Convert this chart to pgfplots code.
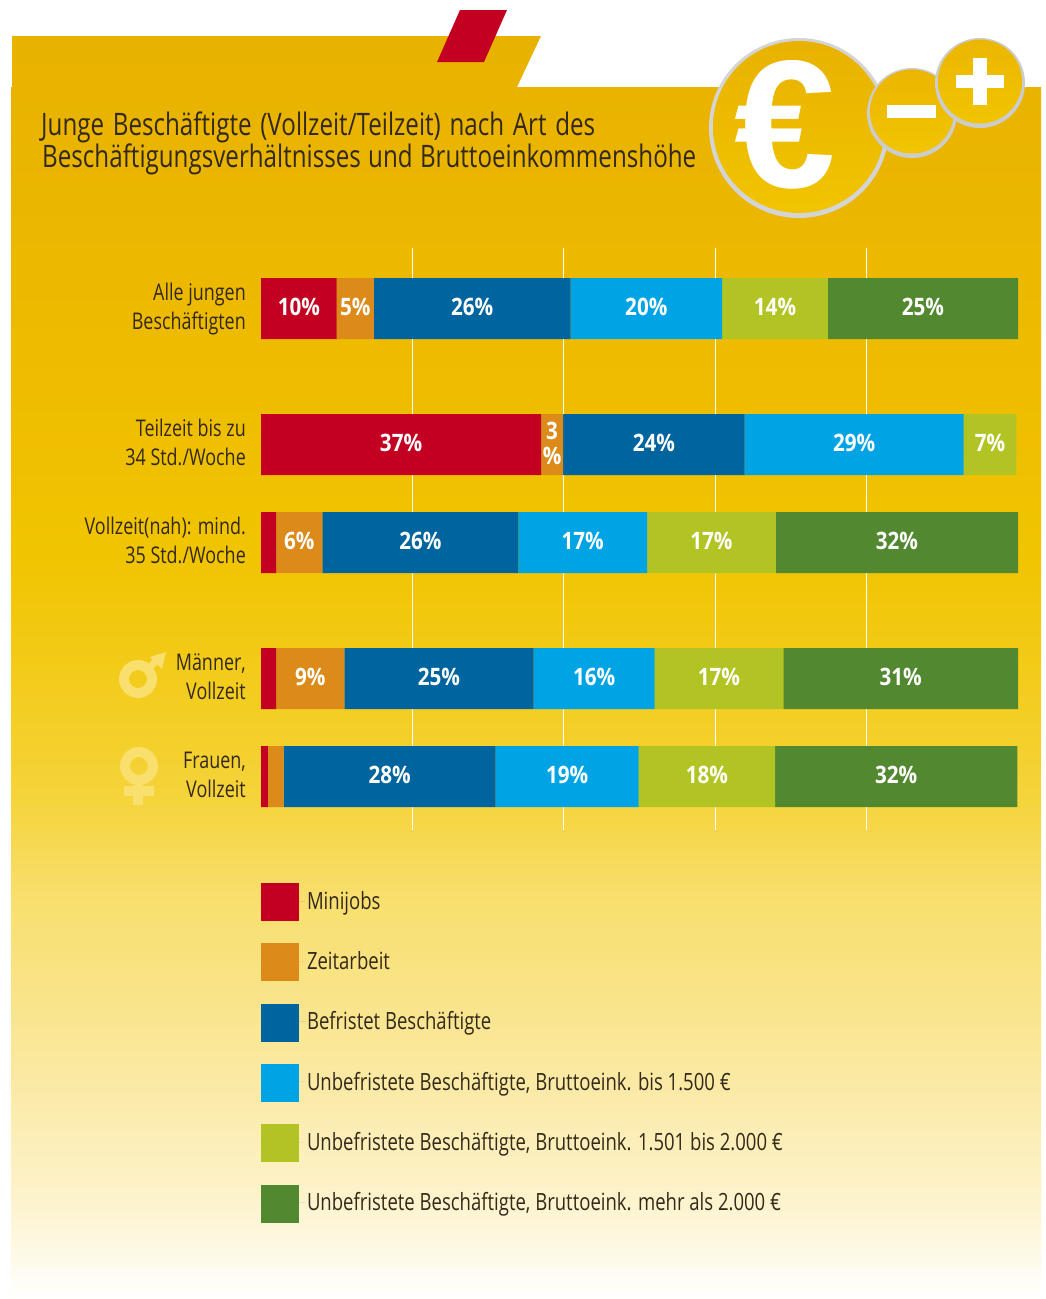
\documentclass[border=0pt]{standalone}
\usepackage{fontspec}
\usepackage{pgfplots}
\usepackage{pgfplotstable}
\pgfplotsset{compat=1.18}
\setmainfont[FakeStretch=0.78]{Open Sans}
\newfontfamily\labfont[FakeStretch=0.86]{Open Sans}
\newfontfamily\eurofont{Liberation Sans}
\definecolor{cRed}{HTML}{C30022}
\definecolor{cOra}{HTML}{DC8A1A}
\definecolor{cDBl}{HTML}{00659F}
\definecolor{cLBl}{HTML}{00A4E4}
\definecolor{cLim}{HTML}{B2C424}
\definecolor{cGrn}{HTML}{52882F}
\definecolor{cTxt}{HTML}{33291A}
\definecolor{g0}{HTML}{E8B200}
\definecolor{g1}{HTML}{EBB600}
\definecolor{g2}{HTML}{EEBD00}
\definecolor{g3}{HTML}{F1C400}
\definecolor{g4}{HTML}{F3CD20}
\definecolor{g5}{HTML}{F5D43C}
\definecolor{g6}{HTML}{F8DF6E}
\definecolor{g7}{HTML}{F9E48A}
\definecolor{g8}{HTML}{FBEBAA}
\definecolor{g9}{HTML}{FDF3CC}
\pgfdeclareverticalshading{bgshade}{100bp}{color(0bp)=(white);color(25bp)=(white);color(28.92bp)=(g9);color(32.88bp)=(g8);color(36.84bp)=(g7);color(40.8bp)=(g6);color(44.75bp)=(g5);color(48.71bp)=(g4);color(54.65bp)=(g3);color(60.59bp)=(g2);color(68.51bp)=(g1);color(75bp)=(g0);color(100bp)=(g0)}
\newcommand\threepct{3\\\%}
\newcommand\vp{\vphantom{Äg}}
\newcommand\catfont{\fontsize{23}{29.3}\selectfont}
\newcommand\legfont{\fontsize{23.75}{29}\selectfont}
% columns: y position of the bar, share in percent, printed label
\pgfplotstableread{
y w lab
308.5 10.0 10\%
444.5 37.0 37\%
542.5 2.0 {}
678.5 2.0 {}
776.5 0.9 {}
}\tMini
\pgfplotstableread{
y w lab
308.5 4.9 5\%
444.5 2.9 \threepct
542.5 6.1 6\%
678.5 9.0 9\%
776.5 2.1 {}
}\tZeit
\pgfplotstableread{
y w lab
308.5 26.0 26\%
444.5 24.0 24\%
542.5 25.9 26\%
678.5 25.0 25\%
776.5 28.0 28\%
}\tBef
\pgfplotstableread{
y w lab
308.5 20.0 20\%
444.5 28.9 29\%
542.5 17.0 17\%
678.5 16.0 16\%
776.5 18.9 19\%
}\tLow
\pgfplotstableread{
y w lab
308.5 14.0 14\%
444.5 7.0 7\%
542.5 17.0 17\%
678.5 17.0 17\%
776.5 18.0 18\%
}\tMid
\pgfplotstableread{
y w lab
308.5 25.1 25\%
444.5 0 {}
542.5 32.0 32\%
678.5 31.0 31\%
776.5 32.0 32\%
}\tHigh
\begin{document}
\begin{tikzpicture}
\path[use as bounding box] (0pt,0pt) rectangle (1046pt,-1299pt);
\begin{scope}[x=1pt,y=-1pt]
\path[shading=bgshade] (12,36) -- (541,36) -- (517,87) -- (1041,87) -- (1041,1299) -- (11,1299) -- (11,87) -- (12,87) -- cycle;
\fill[cRed] (460,10) -- (507,10) -- (484,62) -- (437,62) -- cycle;
% coins
\fill[black!17!white] (799,128) circle (90);
\shade[top color=g0,bottom color=g3] (799,127) circle (86);
\node[text=white,font=\eurofont\bfseries\fontsize{182}{182}\selectfont,inner sep=0pt] at (785,125) {€};
\fill[black!20!white] (912,113) circle (45);
\shade[top color=g1,bottom color=g3] (912,111.5) circle (42);
\fill[white] (887,105) rectangle (936,118);
\fill[black!20!white] (980,83) circle (45);
\shade[top color=g1,bottom color=g3] (980,81.5) circle (42);
\fill[white] (956,75) rectangle (1004,88);
\fill[white] (973,58) rectangle (987,105);
% title
\node[anchor=base west,inner sep=0pt,text=cTxt,font=\fontsize{31}{33}\selectfont] at (41,135) {\spaceskip=8.7pt Junge Beschäftigte (Vollzeit/Teilzeit) nach Art des};
\node[anchor=base west,inner sep=0pt,text=cTxt,font=\fontsize{31}{33}\selectfont] at (42,167) {\spaceskip=7.3pt Beschäftigungsverhältnisses und Bruttoeinkommenshöhe};
% gender signs
\draw[g6,line width=10pt] (138,679) circle (14);
\draw[g6,line width=7pt] (149,668) -- (160,657);
\fill[g6] (150,657) -- (166,652) -- (162,669) -- cycle;
\draw[g6,line width=10pt] (139,766) circle (14);
\fill[g6] (133,785) rectangle (143,805);
\fill[g6] (124,786) rectangle (154,796);
\end{scope}
\begin{axis}[
  at={(261pt,-248pt)},anchor=north west,
  scale only axis,width=757pt,height=582pt,
  xmin=0,xmax=100,ymin=248,ymax=830,y dir=reverse,
  xbar stacked,bar width=61pt,
  axis line style={draw=none},
  major tick length=0pt,
  xtick={20,40,60,80},xticklabels={},
  xmajorgrids,grid style={white,line width=1.3pt},
  ytick={308.5,444.5,542.5,678.5,776.5},
  yticklabels={{\vp Alle jungen\\\vp Beschäftigten},{\vp Teilzeit bis zu\\\vp 34 Std./Woche},{\vp Vollzeit(nah): mind.\\\vp 35 Std./Woche},{\vp Männer,\\\vp Vollzeit},{\vp Frauen,\\\vp Vollzeit}},
  yticklabel style={align=right,font=\catfont,text=cTxt,inner sep=0pt,xshift=-15pt,yshift=1pt},
  point meta=explicit symbolic,
  nodes near coords={\pgfplotspointmeta},
  every node near coord/.style={anchor=center,yshift=1.5pt,text=white,font=\labfont\bfseries\fontsize{24}{25}\selectfont,align=center,inner sep=0pt},
  every axis plot/.append style={draw=none},
  legend image code/.code={\fill[#1] (0pt,-20pt) rectangle (38pt,18pt);\path (0pt,0pt) -- (44pt,0pt);},
  legend style={at={(axis cs:0,883)},anchor=north west,draw=none,fill=none,inner sep=0pt,outer sep=0pt,
    font=\legfont,text=cTxt,row sep=22.3pt,cells={anchor=west}},
  legend cell align=left,
]
\addplot[fill=cRed] table[x=w,y=y,meta=lab] {\tMini};
\addplot[fill=cOra] table[x=w,y=y,meta=lab] {\tZeit};
\addplot[fill=cDBl] table[x=w,y=y,meta=lab] {\tBef};
\addplot[fill=cLBl] table[x=w,y=y,meta=lab] {\tLow};
\addplot[fill=cLim] table[x=w,y=y,meta=lab] {\tMid};
\addplot[fill=cGrn] table[x=w,y=y,meta=lab] {\tHigh};
\legend{Minijobs,Zeitarbeit,Befristet Beschäftigte,{Unbefristete Beschäftigte, Bruttoeink. bis 1.500 €},{Unbefristete Beschäftigte, Bruttoeink. 1.501 bis 2.000 €},{Unbefristete Beschäftigte, Bruttoeink. mehr als 2.000 €}}
\end{axis}
\end{tikzpicture}
\end{document}
